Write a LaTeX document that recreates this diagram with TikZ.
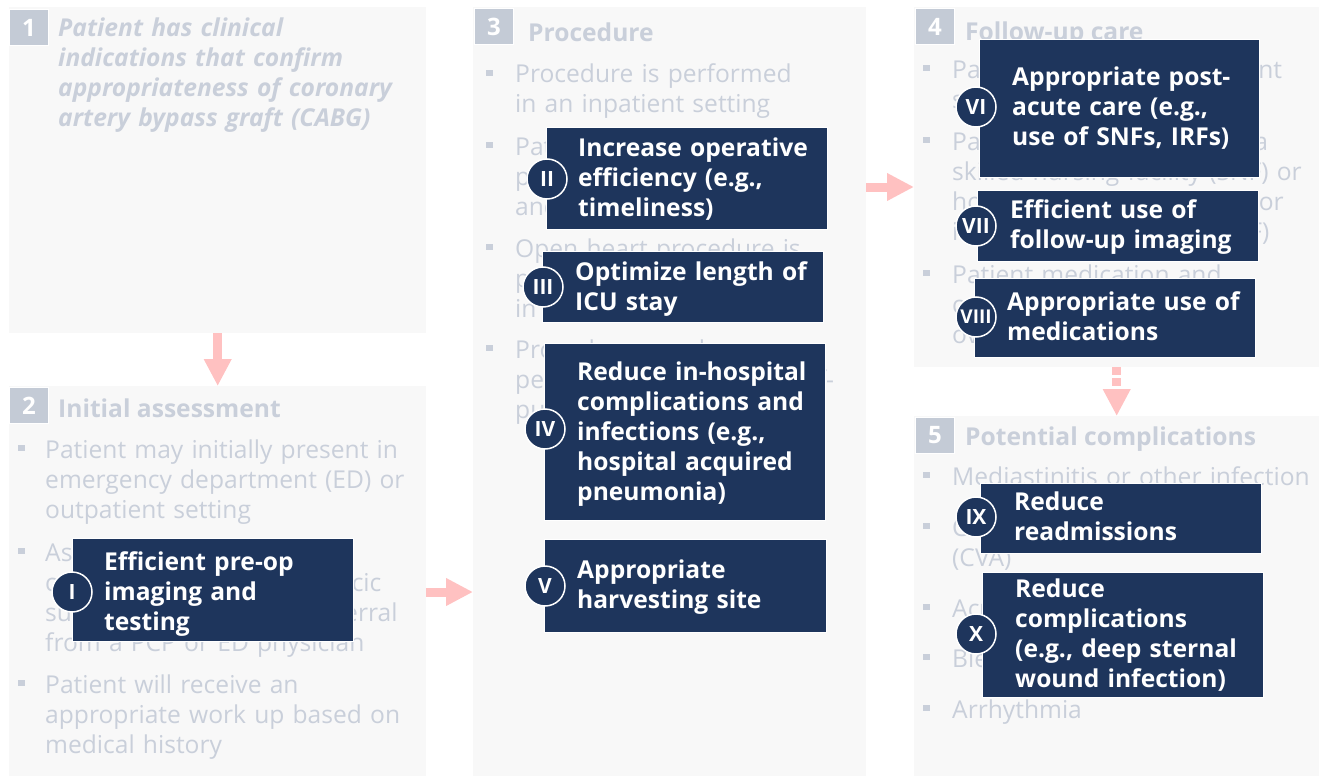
\documentclass[tikz,border=0pt]{standalone}
\usepackage{fontspec}
\setmainfont{Open Sans}
\usetikzlibrary{arrows.meta}
\definecolor{navy}{HTML}{1E355C}
\definecolor{panelbg}{HTML}{F8F8F8}
\definecolor{numbg}{HTML}{C4CBD6}
\definecolor{ghost}{HTML}{C9CFDA}
\definecolor{arrowc}{HTML}{FFC1C1}
\tikzset{
  panel/.style={fill=panelbg,draw=none,inner sep=0,anchor=north west},
  numbox/.style={fill=numbg,draw=white,line width=1pt,text=white,font=\fontsize{24}{26}\selectfont\bfseries,minimum width=39pt,minimum height=36pt,inner sep=0,anchor=north west},
  ghosttxt/.style={text=ghost,font=\fontsize{24.6}{30}\selectfont,align=left,text width=420pt,anchor=base west,inner sep=0},
  titletxt/.style={text=ghost,font=\fontsize{24.6}{30}\selectfont\bfseries,anchor=base west,inner sep=0},
  bul/.style={fill=ghost,minimum size=6.5pt,inner sep=0,draw=none},
  goal/.style={fill=navy,draw=white,line width=0.8pt,inner sep=0,anchor=north west},
  goaltxt/.style={text=white,font=\fontsize{24.6}{30}\selectfont\bfseries,align=left,text width=320pt,anchor=base west,inner sep=0},
  roman/.style={circle,fill=navy,draw=white,line width=1.5pt,minimum size=40pt,inner sep=0,text=white,font=\fontsize{21}{22}\selectfont\bfseries},
  flow/.style={draw=arrowc,line width=9pt,-{Triangle[width=26pt,length=27pt]}},
}
\begin{document}
\begin{tikzpicture}[x=1pt,y=-1pt]
\useasboundingbox (0,0) rectangle (1323,776);
\fill[white] (0,0) rectangle (1323,776);
% panels
\node[panel,minimum width=417,minimum height=326] (p1) at (9,7) {};
\node[panel,minimum width=417,minimum height=390] (p2) at (9,386) {};
\node[panel,minimum width=393,minimum height=769] (p3) at (473,7) {};
\node[panel,minimum width=405,minimum height=360] (p4) at (914,7) {};
\node[panel,minimum width=405,minimum height=360] (p5) at (914,416) {};
% panel 1
\node[ghosttxt,font=\fontsize{24.6}{30}\selectfont\bfseries\itshape] (t1) at (58,37) {Patient has clinical\\indications that confirm\\appropriateness of coronary\\artery bypass graft (CABG)};
% panel 2
\node[titletxt] (h2) at (58,417) {Initial assessment};
\node[ghosttxt] (t2a) at (45,458) {Patient may initially present in\\emergency department (ED) or\\outpatient setting};
\node[ghosttxt] (t2b) at (45,561) {Assessment is done by a\\cardiologist or cardiothoracic\\surgeon, often upon a referral\\from a PCP or ED physician};
\node[ghosttxt] (t2c) at (45,693) {Patient will receive an\\appropriate work up based on\\medical history};
\foreach \b [count=\i] in {458,561,693} \node[bul] (m2-\i) at (21.5,\b-10) {};
% panel 3
\node[titletxt] (h3) at (528,42) {Procedure};
\node[ghosttxt] (t3a) at (515,83) {Procedure is performed\\in an inpatient setting};
\node[ghosttxt] (t3b) at (515,155) {Patient is admitted and\\prepared for surgery\\and anesthesia};
\node[ghosttxt] (t3c) at (515,257) {Open heart procedure is\\performed by a surgeon\\in the operating room};
\node[ghosttxt] (t3d) at (515,358) {Procedure may be\\performed on-pump or off-\\pump technique};
\foreach \b [count=\i] in {83,155,257,358} \node[bul] (m3-\i) at (489.5,\b-10) {};
% panel 4
\node[titletxt] (h4) at (965,41) {Follow-up care};
\node[ghosttxt] (t4a) at (952,78) {Patient remains an inpatient\\several days post-surgery};
\node[ghosttxt] (t4b) at (952,150) {Patient is discharged into a\\skilled nursing facility (SNF) or\\home with home services or\\inpatient rehab facility (IRF)};
\node[ghosttxt] (t4c) at (952,283) {Patient medication and\\condition are monitored\\over time};
\foreach \b [count=\i] in {78,150,283} \node[bul] (m4-\i) at (926.5,\b-10) {};
% panel 5
\node[titletxt] (h5) at (965,445) {Potential complications};
\node[ghosttxt] (t5a) at (952,485) {Mediastinitis or other infection};
\node[ghosttxt] (t5b) at (952,536) {Cerebrovascular accident\\(CVA)};
\node[ghosttxt] (t5c) at (952,617) {Acute kidney injury};
\node[ghosttxt] (t5d) at (952,667) {Bleeding};
\node[ghosttxt] (t5e) at (952,718) {Arrhythmia};
\foreach \b [count=\i] in {485,536,617,667,718} \node[bul] (m5-\i) at (926.5,\b-10) {};
% number boxes
\node[numbox] (n1) at (9,9) {1};
\node[numbox] (n2) at (9,387) {2};
\node[numbox] (n3) at (474,8) {3};
\node[numbox] (n4) at (915,8) {4};
\node[numbox] (n5) at (915,417) {5};
% goal boxes
\node[goal,minimum width=281,minimum height=103] (g1) at (72,538) {};
\node[goal,minimum width=281,minimum height=102] (g2) at (546,127) {};
\node[goal,minimum width=281,minimum height=71] (g3) at (542,251) {};
\node[goal,minimum width=281,minimum height=177] (g4) at (544,343) {};
\node[goal,minimum width=282,minimum height=93] (g5) at (544,539) {};
\node[goal,minimum width=280,minimum height=138] (g6) at (979,39) {};
\node[goal,minimum width=281,minimum height=71] (g7) at (977,190) {};
\node[goal,minimum width=281,minimum height=79] (g8) at (974,278) {};
\node[goal,minimum width=281,minimum height=70] (g9) at (980,483) {};
\node[goal,minimum width=281,minimum height=125] (g10) at (982,572) {};
\node[goaltxt] (gt1) at (104,570) {Efficient pre-op\\imaging and\\testing};
\node[goaltxt] (gt2) at (578,156) {Increase operative\\efficiency (e.g.,\\timeliness)};
\node[goaltxt] (gt3) at (575,280) {Optimize length of\\ICU stay};
\node[goaltxt] (gt4) at (577,380) {Reduce in-hospital\\complications and\\infections (e.g.,\\hospital acquired\\pneumonia)};
\node[goaltxt] (gt5) at (577,578) {Appropriate\\harvesting site};
\node[goaltxt] (gt6) at (1012,85) {Appropriate post-\\acute care (e.g.,\\use of SNFs, IRFs)};
\node[goaltxt] (gt7) at (1010,218) {Efficient use of\\follow-up imaging};
\node[goaltxt] (gt8) at (1007,310) {Appropriate use of\\medications};
\node[goaltxt] (gt9) at (1014,510) {Reduce\\readmissions};
\node[goaltxt] (gt10) at (1015,597) {Reduce\\complications\\(e.g., deep sternal\\wound infection)};
% roman circles
\node[roman] (c1) at (72,592) {I};
\node[roman] (c2) at (547,179) {II};
\node[roman] (c3) at (543,287) {III};
\node[roman] (c4) at (545,429) {IV};
\node[roman] (c5) at (545,586) {V};
\node[roman] (c6) at (976,107) {VI};
\node[roman] (c7) at (976,226) {VII};
\node[roman,font=\fontsize{19}{22}\selectfont\bfseries] (c8) at (976,317) {VIII};
\node[roman] (c9) at (976,517) {IX};
\node[roman] (c10) at (976,634) {X};
% flow arrows
\coordinate (a34) at (890,187);
\draw[flow] (p1.south) -- (p2.north);
\draw[flow] (p2.east |- c1) -- (p3.west |- c1);
\draw[flow] (p3.east |- a34) -- (p4.west |- a34);
\draw[flow,dash pattern=on 8pt off 3pt] (p4.south) -- (p5.north);
\end{tikzpicture}
\end{document}
